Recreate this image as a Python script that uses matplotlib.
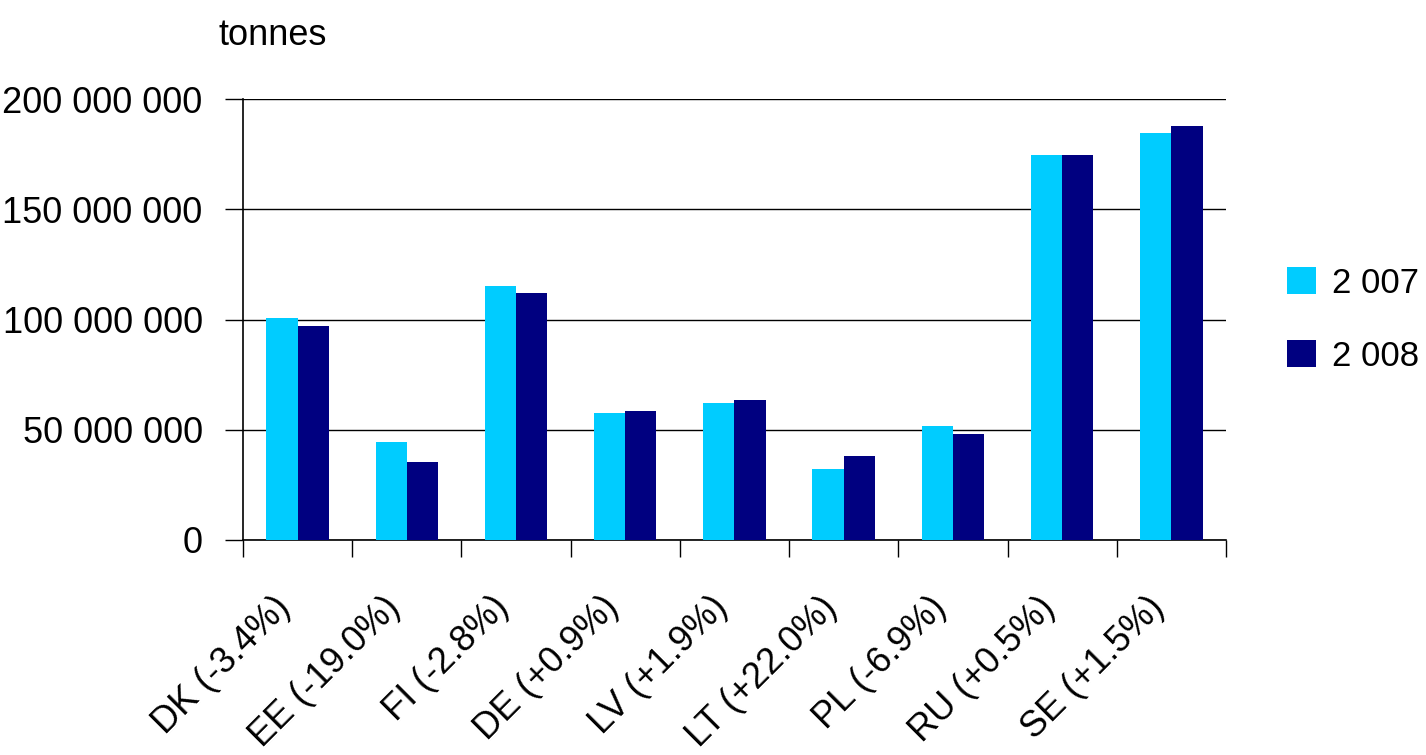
import numpy as np
import matplotlib
matplotlib.use("Agg")
import matplotlib.pyplot as plt
from matplotlib.ticker import FuncFormatter, FixedLocator

plt.rcParams['font.family'] = ['Liberation Sans', 'DejaVu Sans']

# data
countries = ["DK (-3.4%)", "EE (-19.0%)", "FI (-2.8%)", "DE (+0.9%)", "LV (+1.9%)",
             "LT (+22.0%)", "PL (-6.9%)", "RU (+0.5%)", "SE (+1.5%)"]
tonnes_2007 = [100.6e6, 44.5e6, 115.1e6, 57.6e6, 62.1e6, 32.2e6, 51.7e6, 174.5e6, 184.9e6]
tonnes_2008 = [97.3e6, 35.6e6, 112.2e6, 58.6e6, 63.4e6, 38.3e6, 48.3e6, 174.5e6, 188.1e6]
series_labels = ["2 007", "2 008"]
y_ticks = [0, 50e6, 100e6, 150e6, 200e6]

c07 = "#00CCFF"
c08 = "#000080"
fs = 26

fig = plt.figure(figsize=(14.26, 7.55), dpi=100)
ax = fig.add_axes([0.1704, 0.2848, 0.6893, 0.5837])

x = np.arange(len(countries))
w = 1 / 3.5
ax.bar(x - w / 2, tonnes_2007, w, color=c07, label=series_labels[0], zorder=3)
ax.bar(x + w / 2, tonnes_2008, w, color=c08, label=series_labels[1], zorder=3)

ax.set_xlim(-0.5, len(countries) - 0.5)
ax.set_ylim(0, 200e6)

# y axis
ax.yaxis.set_major_locator(FixedLocator(y_ticks))
ax.yaxis.set_major_formatter(FuncFormatter(lambda v, p: f"{int(v):,}".replace(",", " ")))
ax.tick_params(axis='y', length=13, width=1, direction='out', pad=16, labelsize=fs)
ax.grid(axis='y', color='black', linewidth=1, zorder=0)

# x axis: labels at centres, ticks at boundaries
ax.set_xticks(x)
ax.set_xticklabels(countries, rotation=45, ha='right', va='top', fontsize=fs)
ax.tick_params(axis='x', which='major', length=0, pad=36)
ax.set_xticks(np.arange(-0.5, len(countries)), minor=True)
ax.tick_params(axis='x', which='minor', length=12, width=1, direction='out')

for s in ['top', 'right']:
    ax.spines[s].set_visible(False)
for s in ['left', 'bottom']:
    ax.spines[s].set_linewidth(1.2)

fig.text(0.153, 0.953, "tonnes", fontsize=fs, va='center', ha='left')

ax.legend(loc='center left', bbox_to_anchor=(1.03, 0.5), frameon=False, fontsize=25,
          handlelength=0.85, handleheight=0.85, handletextpad=0.45, labelspacing=1.15)

fig.savefig("out.png", dpi=100)
